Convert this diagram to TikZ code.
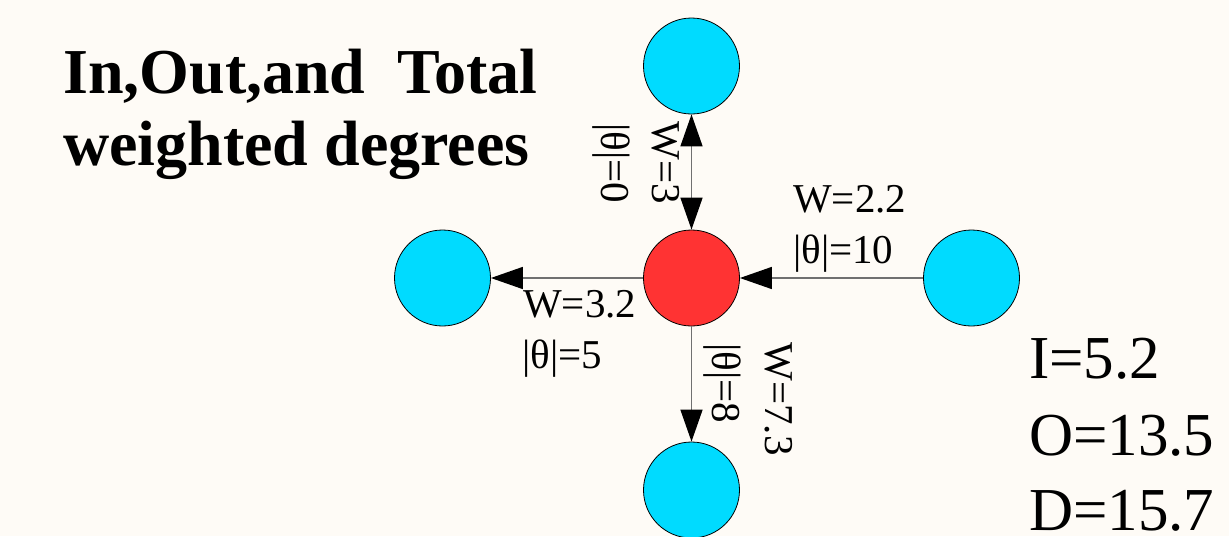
\documentclass[tikz,border=0pt]{standalone}
\usepackage{fontspec}
\setmainfont{Liberation Serif}
\usetikzlibrary{arrows.meta}
\definecolor{bg}{HTML}{FEFBF6}
\definecolor{nodeblue}{HTML}{00DBFF}
\definecolor{nodered}{HTML}{FF3333}
\definecolor{edgegray}{HTML}{707070}
\begin{document}
\begin{tikzpicture}[x=1pt,y=-1pt,
  vertex/.style={circle, draw=black, line width=0.8pt, minimum size=96pt, inner sep=0pt},
  bluev/.style={vertex, fill=nodeblue},
  redv/.style={vertex, fill=nodered},
  edge/.style={draw=edgegray, line width=1.5pt, >={Triangle[length=32pt,width=22pt,color=black]}},
  lbl/.style={font=\fontsize{41}{49}\selectfont, inner sep=0pt},
  vlbl/.style={lbl, rotate=-90, anchor=center},
  titletext/.style={font=\fontsize{64}{72}\selectfont\bfseries, inner sep=0pt, anchor=base west},
  sumtext/.style={font=\fontsize{61}{72}\selectfont, inner sep=0pt, anchor=base west}]
\fill[bg] (0,0) rectangle (1229,536);
\useasboundingbox (0,0) rectangle (1229,536);

% title
\node[titletext] (t1) at (63,93) {In,Out,and\ \ Total};
\node[titletext] (t2) at (63,165) {weighted degrees};

% vertices
\node[redv]  (c) at (691.5,278) {};
\node[bluev] (n) at (691.5,66) {};
\node[bluev] (s) at (691.5,490) {};
\node[bluev] (w) at (442.5,278) {};
\node[bluev] (e) at (971.5,278) {};

% edges
\draw[edge,<->] (n) -- (c);
\draw[edge,->] (c) -- (w);
\draw[edge,->] (e) -- (c);
\draw[edge,->] (c) -- (s);

% edge labels
\node[vlbl] (ln1) at (611,163) {|θ|=0};
\node[vlbl] (ln2) at (666,163) {W=3};
\node[lbl, anchor=base west] (le1) at (793,212) {W=2.2};
\node[lbl, anchor=base west] (le2) at (793,263) {|θ|=10};
\node[lbl, anchor=base west] (lw1) at (523,317) {W=3.2};
\node[lbl, anchor=base west] (lw2) at (522,368) {|θ|=5};
\node[vlbl] (ls1) at (722,383) {|θ|=8};
\node[vlbl] (ls2) at (779,399) {W=7.3};

% summary
\node[sumtext] (si) at (1029,378) {I=5.2};
\node[sumtext] (so) at (1029,455) {O=13.5};
\node[sumtext] (sd) at (1029,530) {D=15.7};
\end{tikzpicture}
\end{document}
